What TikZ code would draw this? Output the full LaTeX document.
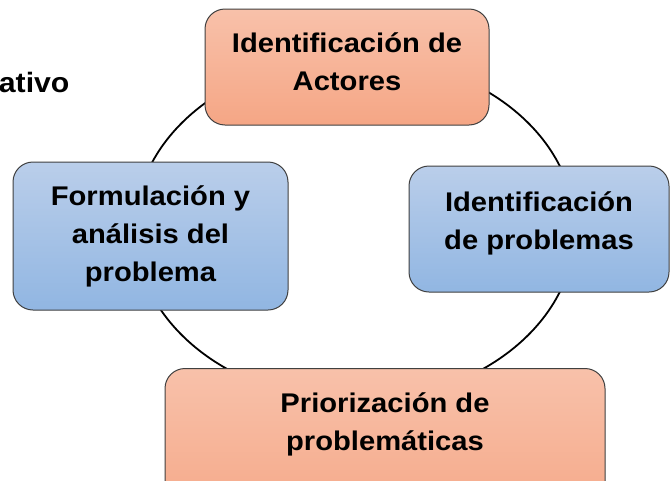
\documentclass[tikz,border=0pt]{standalone}
\usepackage{fontspec}
\newfontfamily\boxfont{Liberation Sans}[FakeStretch=1.08]
\definecolor{SalmonTop}{RGB}{248,193,170}
\definecolor{SalmonBottom}{RGB}{245,166,133}
\definecolor{SkyTop}{RGB}{186,206,234}
\definecolor{SkyBottom}{RGB}{145,182,226}
\begin{document}
\begin{tikzpicture}[x=1pt,y=-1pt]
\tikzstyle{data} = [rounded corners=20pt, draw=black!75, line width=1pt, align=center, inner sep=0pt, font=\boxfont\bfseries\fontsize{27}{38}\selectfont]
\tikzstyle{warmfill} = [top color=SalmonTop, bottom color=SalmonBottom]
\tikzstyle{coolfill} = [top color=SkyTop, bottom color=SkyBottom]

\useasboundingbox (0,0) rectangle (670,480);
\clip (0,0) rectangle (670,480);
\fill[white] (0,0) rectangle (670,480);

% the cycle behind the boxes
\draw[line width=1.8pt] (355,229) ellipse [x radius=220, y radius=172];

\node (Titulo) [anchor=base east, font=\boxfont\bfseries\fontsize{28}{38}\selectfont] at (73,92) {ativo};

\node (IdentificacionActores) [data, warmfill, minimum width=284pt, minimum height=116pt, text depth=10pt] at (347,67) {Identificación de\\Actores};
\node (IdentificacionProblemas) [data, coolfill, minimum width=260pt, minimum height=126pt, text depth=16pt] at (539,229) {Identificación\\de problemas};
\node (Priorizacion) [data, warmfill, anchor=north, minimum width=440pt, inner ysep=24pt, text depth=60pt] at (385,368) {Priorización de\\problemáticas};
\node (Formulacion) [data, coolfill, minimum width=275pt, minimum height=148pt] at (150.5,236) {Formulación y\\análisis del\\problema};

\end{tikzpicture}
\end{document}
